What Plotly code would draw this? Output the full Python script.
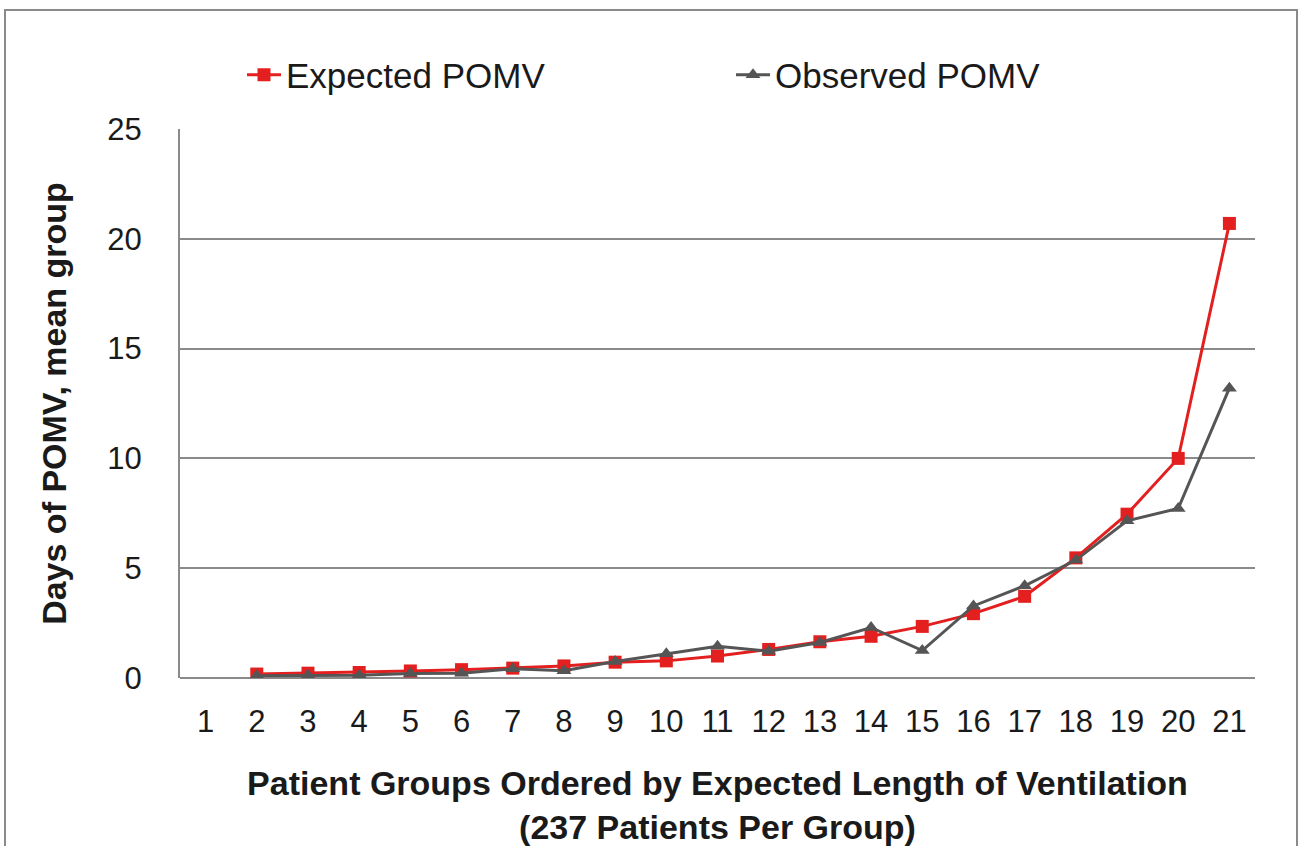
import plotly.graph_objects as go

# patient groups 1..21 (group 1 has no plotted value)
groups = [str(i) for i in range(1, 22)]
expected_pomv = [None, 0.18, 0.22, 0.25, 0.32, 0.38, 0.45, 0.55, 0.72, 0.78, 1.0,
                 1.3, 1.65, 1.9, 2.35, 2.93, 3.72, 5.47, 7.46, 10.0, 20.7]
observed_pomv = [None, 0.1, 0.12, 0.13, 0.2, 0.22, 0.42, 0.33, 0.75, 1.1, 1.45,
                 1.22, 1.62, 2.3, 1.25, 3.28, 4.2, 5.37, 7.16, 7.72, 13.2]

W, H = 1301, 846
L, R, T, B = 180, 46, 129, 168
FONT = "Liberation Sans, Arial, sans-serif"
pw, ph = W - L - R, H - T - B


def px_x(px):
    return (px - L) / pw


def px_y(py):
    return (H - B - py) / ph


fig = go.Figure()

fig.add_trace(go.Scatter(
    x=groups, y=expected_pomv,
    mode='lines+markers',
    name='Expected POMV',
    line=dict(color='#e3201f', width=3),
    marker=dict(symbol='square', size=13, color='#e3201f'),
))

fig.add_trace(go.Scatter(
    x=groups, y=observed_pomv,
    mode='lines+markers',
    name='Observed POMV',
    line=dict(color='#555555', width=3),
    marker=dict(symbol='triangle-up', size=13, color='#555555'),
))

# outer frame around the whole chart
fig.add_shape(type='rect', xref='paper', yref='paper',
              x0=px_x(5), x1=px_x(1297), y0=px_y(870), y1=px_y(10),
              line=dict(color='#8a8a8a', width=2), fillcolor='rgba(0,0,0,0)')

fig.update_layout(
    width=W, height=H,
    margin=dict(l=L, r=R, t=T, b=B),
    paper_bgcolor='white', plot_bgcolor='white',
    font=dict(family=FONT, color='#1a1a1a'),
    showlegend=True,
    legend=dict(
        orientation='h', x=px_x(242), xanchor='left',
        y=px_y(75), yanchor='middle',
        font=dict(size=35, family=FONT),
        entrywidth=440, entrywidthmode='pixels',
        itemwidth=34, bgcolor='rgba(0,0,0,0)',
    ),
    xaxis=dict(
        type='category', range=[-0.5, 20.5], automargin=False,
        showgrid=False, showline=False, ticks='',
        tickfont=dict(size=31, family=FONT), ticklabelstandoff=22,
        title=dict(text='<b>Patient Groups Ordered by Expected Length of Ventilation<br>(237 Patients Per Group)</b>',
                   font=dict(size=34, family=FONT), standoff=36),
        zeroline=False,
    ),
    yaxis=dict(
        range=[0, 25], dtick=5, automargin=False,
        showgrid=True, gridcolor='#8a8a8a', gridwidth=2,
        showline=True, linecolor='#8a8a8a', linewidth=2,
        zeroline=True, zerolinecolor='#8a8a8a', zerolinewidth=2,
        ticks='', tickfont=dict(size=31, family=FONT), ticklabelstandoff=30,
        title=dict(text='<b>Days of POMV, mean group</b>',
                   font=dict(size=34, family=FONT), standoff=30),
    ),
)

fig.write_html("out.html", config={'displayModeBar': False},
               post_script="document.body.style.margin='0';")
